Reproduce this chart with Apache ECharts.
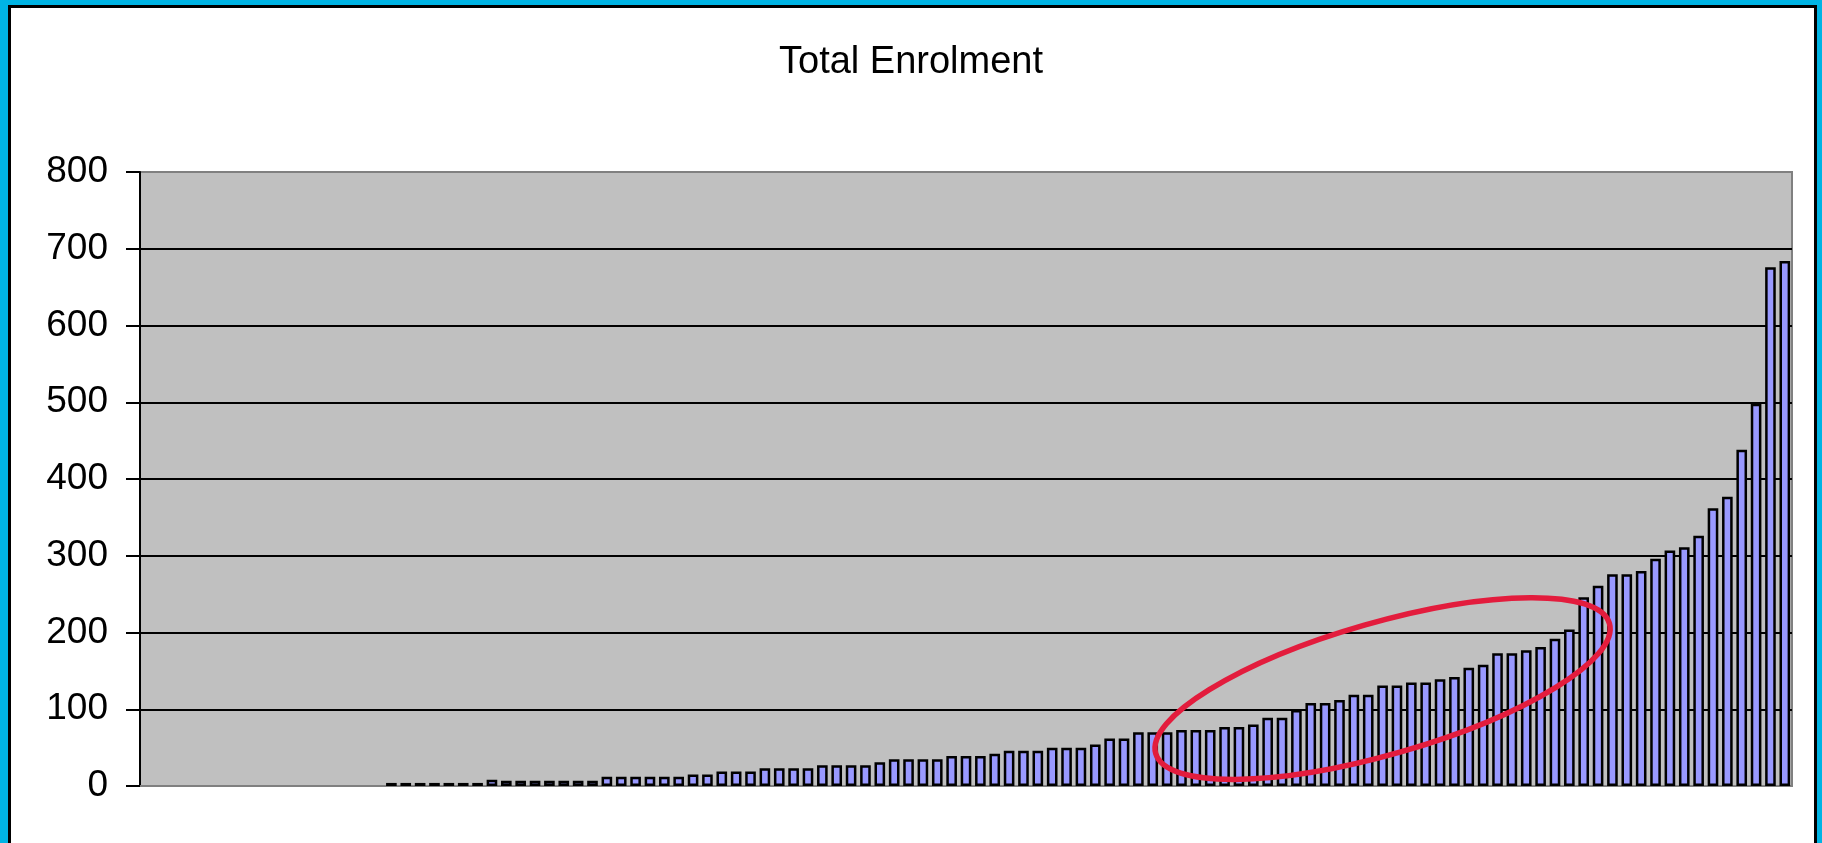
<!DOCTYPE html>
<html>
<head>
<meta charset="utf-8">
<title>Total Enrolment</title>
<script src="https://cdn.jsdelivr.net/npm/echarts@6/dist/echarts.min.js"></script>
<style>
html, body { margin: 0; padding: 0; overflow: hidden; background: #00b4e4; width: 1822px; height: 843px; }
#frame { position: absolute; left: 8px; top: 5px; width: 1809px; height: 860px; box-sizing: border-box;
         border: 3px solid #000; background: #fff; }
#main { position: absolute; left: 0; top: 0; width: 1822px; height: 843px; }
</style>
</head>
<body>
<div id="frame"></div>
<div id="main"></div>
<script>
// enrolment per school, sorted; the first 17 schools have no bar
var enrolment = [
    null, null, null, null, null, null, null, null, null, null, null, null, null, null, null, null, null,
    4, 4, 4, 4, 4, 4, 4,
    8, 7, 7, 7, 7, 7, 7, 7,
    12, 12, 12, 12, 12, 12,
    15, 15,
    19, 19, 19,
    23, 23, 23, 23,
    27, 27, 27, 27,
    31,
    35, 35, 35, 35,
    39, 39, 39,
    42,
    46, 46, 46,
    50, 50, 50,
    54,
    62, 62,
    70, 70, 70,
    73, 73, 73,
    77, 77,
    80,
    89, 89,
    99,
    108, 108,
    112,
    119, 119,
    131, 131,
    135, 135,
    139, 142, 154, 158,
    173, 173,
    177, 181, 192, 204,
    246, 261,
    276, 276,
    280, 296, 307, 311, 326, 362, 377, 438, 498,
    676, 684
];
var schools = [];
for (var i = 0; i < enrolment.length; i++) schools.push('School ' + (i + 1));

var yMin = 0, yMax = 800, yStep = 100;

// red ring drawn round the middle group: centre in data units, radii in px
var ringCentre = [85.8, 127];
var ringRadius = [236, 66];
var ringTilt = 16; // degrees

var dom = document.getElementById('main');
var myChart = echarts.init(dom, null, { renderer: 'canvas' });
var font = 'Liberation Sans, Arial, sans-serif';

var option = {
    animation: false,
    title: {
        text: 'Total Enrolment',
        left: 'center',
        top: 39,
        textStyle: { fontFamily: font, fontSize: 38, fontWeight: 'normal', color: '#000' }
    },
    grid: {
        left: 140, right: 30, top: 172, bottom: 57,
        show: true,
        backgroundColor: '#c0c0c0',
        borderColor: '#808080',
        borderWidth: 2
    },
    xAxis: {
        type: 'category',
        data: schools,
        axisLine: { lineStyle: { color: '#808080', width: 2 } },
        axisTick: { show: false },
        axisLabel: { show: false },
        splitLine: { show: false }
    },
    yAxis: {
        type: 'value',
        min: yMin, max: yMax, interval: yStep,
        axisLine: { show: true, lineStyle: { color: '#000', width: 2 } },
        axisTick: { show: true, length: 14, lineStyle: { color: '#000', width: 2 } },
        axisLabel: { margin: 32, fontFamily: font, fontSize: 37, color: '#000' },
        splitLine: { show: true, showMaxLine: false, lineStyle: { color: '#000', width: 2 } }
    },
    series: [{
        name: 'Total Enrolment',
        type: 'bar',
        data: enrolment,
        barCategoryGap: '26%',
        itemStyle: { color: '#9999ff', borderColor: '#000', borderWidth: 2.5 }
    }]
};
myChart.setOption(option);

var c = myChart.convertToPixel({ gridIndex: 0 }, ringCentre);
myChart.setOption({
    graphic: [{
        type: 'ellipse',
        x: c[0], y: c[1],
        rotation: ringTilt * Math.PI / 180,
        shape: { cx: 0, cy: 0, rx: ringRadius[0], ry: ringRadius[1] },
        style: { fill: 'none', stroke: '#e31c3d', lineWidth: 5.5 },
        z: 100
    }]
});
</script>
</body>
</html>
